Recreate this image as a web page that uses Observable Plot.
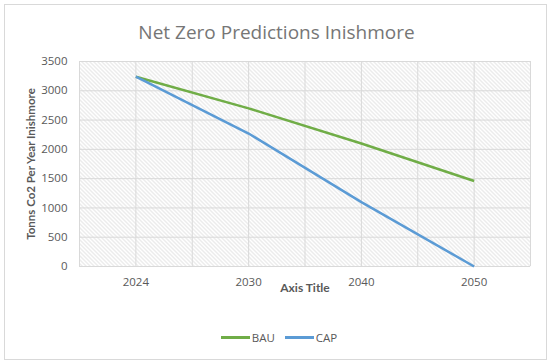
<!DOCTYPE html>
<html>
<head>
<meta charset="utf-8">
<script src="https://cdn.jsdelivr.net/npm/d3@7"></script>
<script src="https://cdn.jsdelivr.net/npm/@observablehq/plot@0.6"></script>
<style>
  html, body { margin: 0; padding: 0; background: #fff; }
  #wrap { position: relative; width: 550px; height: 363px; overflow: hidden; font-family: "Open Sans", sans-serif; }
  #border { position: absolute; left: 4px; top: 4px; width: 541px; height: 354px; border: 1.5px solid #d9d9d9; pointer-events: none; }
  #legend { position: absolute; left: 0; width: 550px; top: 330px; display: flex; justify-content: center; align-items: center; font-size: 11.5px; color: #595959; padding-left: 4px; }
  .sw { display: inline-block; width: 29px; height: 2.5px; margin-right: 2px; }
  .item { display: flex; align-items: center; margin: 0 5px; }
</style>
</head>
<body>
<div id="wrap"><div id="border"></div></div>
<script>
const years = ["2024", "2030", "2040", "2050"];
const seriesNames = ["BAU", "CAP"];
const bau = [3240, 2700, 2100, 1460];
const cap = [3240, 2270, 1100, 0];
const yTicks = [0, 500, 1000, 1500, 2000, 2500, 3000, 3500];
const colors = ["#70ad47", "#5b9bd5"];
const titleText = "Net Zero Predictions Inishmore";
const yLabel = "Tonns Co2 Per Year Inishmore";
const xLabel = "Axis Title";

const data = years.flatMap((y, i) => [
  {i, year: y, series: "BAU", value: bau[i]},
  {i, year: y, series: "CAP", value: cap[i]}
]);
const xIdx = years.map((_, i) => i);
const xGrid = d3.range(-0.5, years.length - 0.5 + 0.01, 0.5);

const chart = Plot.plot({
  width: 550,
  height: 363,
  marginLeft: 79,
  marginRight: 20,
  marginTop: 61,
  marginBottom: 97,
  style: {fontFamily: "'Open Sans', sans-serif", fontSize: "11.5px", color: "#595959", background: "transparent"},
  x: {domain: [-0.5, years.length - 0.5], axis: null},
  y: {domain: [0, 3500], axis: null},
  color: {domain: seriesNames, range: colors},
  marks: [
    Plot.frame({fill: "url(#hatch)", stroke: "none"}),
    Plot.ruleY(yTicks, {stroke: "#d9d9d9", strokeWidth: 1}),
    Plot.ruleX(xGrid, {stroke: "#d9d9d9", strokeWidth: 1}),
    Plot.axisX(xIdx, {tickFormat: i => years[i], tickSize: 0, tickPadding: 11, label: null, fill: "#595959"}),
    Plot.axisY(yTicks, {tickSize: 0, tickPadding: 12, label: null, fill: "#595959", tickFormat: d => String(d)}),
    Plot.line(data, {x: "i", y: "value", stroke: "series", z: "series", strokeWidth: 2.5, strokeLinecap: "butt"}),
    Plot.text([xLabel], {frameAnchor: "bottom", dy: 22, lineAnchor: "middle", fontWeight: "bold", fontFamily: "Lato, sans-serif", fontSize: 12, fill: "#595959"}),
    Plot.text([yLabel], {frameAnchor: "left", dx: -48, rotate: -90, textAnchor: "middle", lineAnchor: "middle", fontWeight: "bold", fontFamily: "Lato, sans-serif", fontSize: 11.5, fill: "#595959"}),
    Plot.text([titleText], {frameAnchor: "top", dx: -28.5, dy: -29, lineAnchor: "middle", fontSize: 19, fill: "#767676"})
  ]
});

const svg = d3.select(chart);
const defs = svg.insert("defs", ":first-child");
const pat = defs.append("pattern").attr("id", "hatch").attr("patternUnits", "userSpaceOnUse").attr("width", 4).attr("height", 4);
pat.append("rect").attr("width", 4).attr("height", 4).attr("fill", "#ffffff");
pat.append("path").attr("d", "M0,0 L4,4 M-1,3 L1,5 M3,-1 L5,1").attr("stroke", "#d4d4d4").attr("stroke-width", 0.9);

const wrap = document.getElementById("wrap");
wrap.insertBefore(chart, wrap.firstChild);

const legend = document.createElement("div");
legend.id = "legend";
seriesNames.forEach((name, k) => {
  const item = document.createElement("div");
  item.className = "item";
  const sw = document.createElement("span");
  sw.className = "sw";
  sw.style.background = colors[k];
  const lab = document.createElement("span");
  lab.textContent = name;
  item.appendChild(sw);
  item.appendChild(lab);
  legend.appendChild(item);
});
wrap.appendChild(legend);
</script>
</body>
</html>
